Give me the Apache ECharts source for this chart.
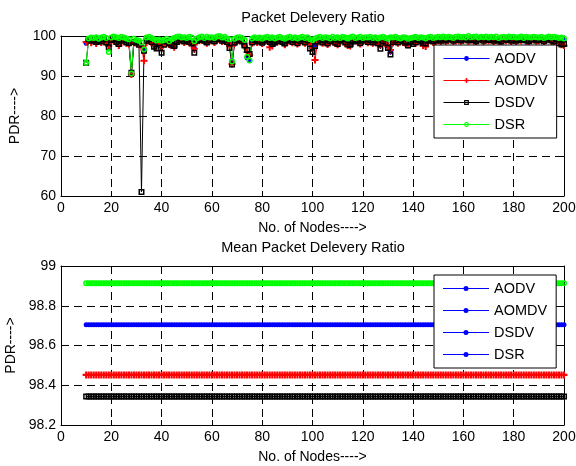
<!DOCTYPE html>
<html>
<head>
<meta charset="utf-8">
<script src="https://cdn.jsdelivr.net/npm/echarts@6/dist/echarts.min.js"></script>
<style>
  html, body { margin: 0; padding: 0; background: #fff; }
  #chart { width: 576px; height: 466px; }
</style>
</head>
<body>
<div id="chart"></div>
<script>
const protocols = ['AODV', 'AOMDV', 'DSDV', 'DSR']
const colors = ['#0000ff', '#ff0000', '#000000', '#00ff00']

// number of nodes: 10 .. 200, one run per node count
const nodes = []
for (let n = 10; n <= 200; n++) nodes.push(n)

const aodvPdr = [
  98.2, 99.0, 99.2, 98.8, 98.6, 99.1, 98.9, 99.3, 98.7, 97.8,
  99.0, 99.3, 98.6, 97.8, 98.9, 99.2, 98.8, 98.5, 91.0, 98.7,
  98.6, 98.4, 97.5, 96.6, 99.0, 99.3, 98.7, 98.1, 97.6, 98.4,
  97.9, 98.5, 98.8, 98.2, 97.4, 97.3, 98.6, 99.1, 99.3, 98.9,
  99.2, 98.8, 98.4, 97.0, 98.9, 99.2, 99.4, 99.0, 98.7, 99.1,
  99.3, 98.9, 99.4, 99.5, 99.0, 99.2, 98.8, 97.9, 93.8, 98.5,
  99.1, 99.3, 98.9, 97.9, 94.5, 93.8, 98.7, 99.2, 98.9, 99.0,
  98.5, 99.1, 99.3, 98.8, 99.2, 98.6, 98.9, 99.3, 98.7, 98.4,
  99.1, 99.3, 98.8, 99.2, 98.5, 98.9, 99.3, 98.7, 99.1, 98.3,
  97.5, 97.8, 98.8, 99.2, 98.7, 99.1, 98.4, 98.9, 99.3, 98.6,
  98.2, 99.0, 99.3, 98.7, 98.1, 97.9, 98.8, 99.2, 98.9, 98.5,
  99.1, 99.3, 98.8, 99.2, 98.7, 99.0, 98.5, 98.2, 98.9, 98.6,
  97.5, 96.0, 98.8, 99.1, 98.7, 99.2, 98.9, 98.6, 98.3, 98.8,
  99.1, 98.7, 99.2, 98.9, 98.5, 98.8, 99.2, 99.4, 98.9, 99.1,
  99.3, 99.0, 99.4, 99.1, 99.3, 99.5, 99.0, 99.2, 99.4, 99.1,
  99.3, 99.5, 99.1, 99.4, 99.2, 99.0, 99.3, 99.5, 99.1, 99.4,
  99.2, 99.4, 99.0, 99.3, 99.1, 98.9, 99.4, 99.2, 99.5, 99.1,
  99.3, 99.0, 99.4, 99.2, 99.5, 99.1, 98.9, 99.3, 99.4, 99.1,
  99.2, 99.4, 98.9, 99.3, 99.5, 99.1, 98.9, 99.4, 98.7, 98.5,
  98.9
]
const aomdvPdr = [
  98.5, 98.9, 98.3, 98.6, 98.1, 98.7, 98.4, 99.0, 98.2, 97.6,
  98.8, 99.0, 98.3, 97.6, 98.5, 98.8, 98.2, 98.0, 90.4, 98.3,
  98.2, 98.0, 97.2, 93.8, 98.4, 98.9, 98.3, 97.7, 97.2, 98.0,
  97.5, 98.2, 98.4, 97.9, 97.6, 97.2, 98.2, 98.7, 98.9, 98.4,
  98.8, 98.3, 97.9, 96.8, 98.5, 98.8, 99.0, 98.6, 98.2, 98.7,
  98.9, 98.4, 99.0, 99.1, 98.6, 98.8, 98.3, 97.6, 93.0, 98.1,
  98.6, 98.9, 98.4, 97.4, 96.0, 95.2, 98.2, 98.8, 98.4, 98.6,
  98.1, 98.7, 98.9, 97.2, 97.5, 98.2, 98.5, 98.9, 98.3, 97.8,
  98.6, 98.9, 98.3, 98.8, 98.0, 98.5, 98.9, 98.2, 98.7, 97.9,
  97.0, 94.0, 98.4, 98.8, 98.2, 98.7, 97.9, 98.5, 98.9, 98.1,
  97.8, 98.6, 98.9, 98.2, 97.6, 97.5, 98.4, 98.8, 98.5, 98.0,
  98.7, 98.9, 98.3, 98.8, 98.2, 98.6, 98.0, 97.8, 98.5, 98.1,
  97.4, 96.5, 98.3, 98.7, 98.2, 98.8, 98.4, 98.1, 97.8, 98.3,
  98.7, 98.2, 98.8, 98.4, 97.6, 97.4, 98.6, 98.9, 98.4, 98.7,
  98.9, 98.6, 99.0, 98.7, 98.9, 99.1, 98.6, 98.8, 99.0, 98.7,
  98.9, 99.1, 98.7, 99.0, 98.8, 98.5, 98.9, 99.1, 98.6, 99.0,
  98.8, 99.0, 98.6, 98.9, 98.7, 98.4, 99.0, 98.8, 99.1, 98.6,
  98.9, 98.6, 99.0, 98.8, 99.1, 98.7, 98.5, 98.9, 99.0, 98.7,
  98.8, 99.0, 98.5, 98.9, 99.1, 98.7, 98.4, 99.0, 98.3, 97.8,
  97.6
]
const dsdvPdr = [
  93.3, 99.2, 98.8, 99.0, 98.5, 98.9, 98.6, 99.1, 98.4, 97.2,
  99.0, 99.2, 98.5, 98.0, 98.8, 99.0, 98.4, 98.2, 90.8, 98.5,
  98.3, 97.8, 61.0, 96.3, 98.8, 99.1, 98.5, 97.3, 96.9, 98.2,
  95.8, 97.8, 98.6, 98.1, 97.8, 97.5, 98.5, 98.9, 99.1, 98.6,
  99.0, 98.5, 98.1, 95.8, 98.8, 99.0, 99.2, 98.8, 98.4, 98.9,
  99.1, 98.6, 99.2, 99.3, 98.8, 99.0, 98.5, 97.0, 92.9, 98.3,
  98.9, 99.1, 98.6, 97.6, 96.5, 95.5, 98.4, 99.0, 98.6, 98.8,
  98.3, 98.9, 99.1, 98.5, 98.0, 98.4, 98.7, 99.1, 98.5, 98.1,
  98.8, 99.1, 98.5, 99.0, 98.2, 98.7, 99.1, 98.4, 98.9, 96.9,
  96.0, 97.5, 98.6, 99.0, 98.4, 98.9, 98.1, 98.7, 99.1, 98.3,
  98.0, 98.8, 99.1, 98.4, 97.9, 97.8, 98.6, 99.0, 98.7, 98.2,
  98.9, 99.1, 98.5, 99.0, 98.4, 98.8, 98.2, 96.8, 98.7, 98.3,
  97.0, 95.4, 98.5, 98.9, 98.4, 99.0, 98.6, 98.3, 97.6, 98.5,
  98.0, 98.4, 99.0, 98.6, 98.2, 98.1, 98.8, 99.1, 98.6, 98.9,
  99.1, 98.8, 99.2, 98.9, 99.1, 99.3, 98.8, 99.0, 99.2, 98.9,
  99.1, 99.3, 98.9, 99.2, 99.0, 98.7, 99.1, 99.3, 98.8, 99.2,
  99.0, 99.2, 98.8, 99.1, 98.9, 98.6, 99.2, 99.0, 99.3, 98.8,
  99.1, 98.8, 99.2, 99.0, 99.3, 98.9, 98.7, 99.1, 99.2, 98.9,
  99.0, 99.2, 98.7, 99.1, 99.3, 98.9, 98.6, 99.2, 98.2, 97.9,
  98.0
]
const dsrPdr = [
  93.3, 99.4, 99.6, 99.5, 99.7, 99.3, 99.6, 99.8, 99.5, 96.0,
  99.6, 99.9, 99.7, 99.5, 99.8, 99.6, 99.4, 99.2, 90.6, 99.3,
  99.0, 98.8, 98.4, 96.6, 99.6, 99.8, 99.5, 99.2, 98.9, 99.1,
  98.8, 99.0, 99.3, 98.7, 99.2, 99.5, 99.8, 99.9, 99.6, 99.7,
  99.5, 99.8, 99.6, 98.7, 99.4, 99.7, 99.9, 99.5, 99.8, 99.6,
  99.7, 99.5, 99.9, 100.0, 99.6, 99.8, 99.4, 99.2, 93.6, 99.3,
  99.6, 99.7, 99.5, 99.0, 94.8, 93.9, 99.4, 99.7, 99.5, 99.6,
  99.3, 99.6, 99.8, 99.5, 99.7, 99.4, 99.6, 99.8, 99.5, 99.3,
  99.6, 99.8, 99.5, 99.7, 99.4, 99.6, 99.8, 99.5, 99.7, 99.2,
  99.0, 99.4, 99.6, 99.8, 99.5, 99.7, 99.6, 99.4, 99.8, 99.5,
  99.7, 99.5, 99.8, 99.6, 99.4, 99.7, 99.9, 99.5, 99.6, 99.8,
  99.5, 99.7, 99.6, 99.8, 99.5, 99.7, 99.4, 99.6, 99.8, 99.5,
  99.3, 99.7, 99.6, 99.8, 99.5, 99.4, 99.7, 99.6, 99.3, 99.5,
  99.6, 99.8, 99.5, 99.7, 99.6, 99.4, 99.7, 99.8, 99.5, 99.6,
  99.8, 99.7, 99.9, 99.6, 99.8, 99.7, 99.5, 99.8, 99.9, 99.7,
  99.8, 99.6, 100.0, 99.7, 99.8, 99.9, 99.6, 99.8, 99.7, 99.9,
  99.6, 99.8, 99.7, 99.9, 99.5, 99.7, 99.8, 99.6, 99.9, 99.7,
  99.8, 99.6, 99.7, 99.9, 99.5, 99.8, 99.7, 99.6, 99.8, 99.7,
  99.6, 99.8, 99.5, 99.7, 99.9, 99.6, 99.8, 99.7, 99.5, 99.6,
  99.4
]
const pdrSeries = [aodvPdr, aomdvPdr, dsdvPdr, dsrPdr]

// mean PDR of each protocol (bottom plot)
const meanPdr = [98.705, 98.452, 98.343, 98.913]

const xTicks = { min: 0, max: 200, interval: 20 }
const pdrTicks = { min: 60, max: 100, interval: 10 }
const meanTicks = { min: 98.2, max: 99, interval: 0.2 }

const font = 'Liberation Sans, Arial, sans-serif'
// matlab-like markers: '*' (dot), '+', hollow square, hollow circle
const plusSymbol = 'path://M3.5,0H6.5V3.5H10V6.5H6.5V10H3.5V6.5H0V3.5H3.5Z'
const squareSymbol = 'path://M0,0H10V10H0Z M2.5,2.5V7.5H7.5V2.5Z'
const ringSymbol = 'path://M5,0A5,5 0 1,1 5,10A5,5 0 1,1 5,0Z M5,2.5A2.5,2.5 0 1,0 5,7.5A2.5,2.5 0 1,0 5,2.5Z'
const symbols = ['circle', plusSymbol, squareSymbol, ringSymbol]
const symbolSizes = [5, 7, 6, 6]
const legendLineDot = 'path://M0,2.5H46V3.5H0Z M20.5,3A2.5,2.5 0 1,1 25.5,3A2.5,2.5 0 1,1 20.5,3Z'

const grids = [
  { left: 61, top: 36, width: 503, height: 160, outerBoundsMode: 'none', containLabel: false },
  { left: 61, top: 266, width: 503, height: 159, outerBoundsMode: 'none', containLabel: false }
]

function axisBase(ticks, gridIndex, position, labels) {
  return {
    type: 'value',
    gridIndex,
    position,
    min: ticks.min,
    max: ticks.max,
    interval: ticks.interval,
    axisLine: { show: true, onZero: false, lineStyle: { color: '#000', width: 1 } },
    axisTick: { show: true, inside: true, length: 5, lineStyle: { color: '#000' } },
    axisLabel: {
      show: labels,
      color: '#000',
      fontFamily: font,
      fontSize: 14,
      margin: 5,
      formatter: (v) => String(+v.toFixed(1))
    },
    splitLine: { show: false }
  }
}

function mainAxis(ticks, gridIndex, position, name, gap) {
  const axis = axisBase(ticks, gridIndex, position, true)
  axis.name = name
  axis.nameLocation = 'middle'
  axis.nameGap = gap
  axis.nameTextStyle = { color: '#000', fontFamily: font, fontSize: 14 }
  axis.splitLine = { show: true, lineStyle: { color: '#000', width: 1, type: [8, 5] } }
  return axis
}

const xAxis = [
  mainAxis(xTicks, 0, 'bottom', 'No. of Nodes---->', 25),
  axisBase(xTicks, 0, 'top', false),
  mainAxis(xTicks, 1, 'bottom', 'No. of Nodes---->', 25),
  axisBase(xTicks, 1, 'top', false)
]
const yAxis = [
  mainAxis(pdrTicks, 0, 'left', 'PDR---->', 39),
  axisBase(pdrTicks, 0, 'right', false),
  mainAxis(meanTicks, 1, 'left', 'PDR---->', 39),
  axisBase(meanTicks, 1, 'right', false)
]

const series = []
protocols.forEach((name, i) => {
  series.push({
    name,
    type: 'line',
    xAxisIndex: 0,
    yAxisIndex: 0,
    data: nodes.map((n, k) => [n, pdrSeries[i][k]]),
    symbol: symbols[i],
    symbolSize: symbolSizes[i],
    showAllSymbol: true,
    color: colors[i],
    lineStyle: { width: 1, color: colors[i] },
    itemStyle: { color: colors[i] },
    emphasis: { disabled: true },
    clip: true
  })
})
protocols.forEach((name, i) => {
  series.push({
    name,
    type: 'line',
    xAxisIndex: 2,
    yAxisIndex: 2,
    data: nodes.map((n) => [n, meanPdr[i]]),
    symbol: symbols[i],
    symbolSize: symbolSizes[i],
    showAllSymbol: true,
    color: colors[i],
    lineStyle: { width: 1, color: colors[i] },
    itemStyle: { color: colors[i] },
    emphasis: { disabled: true },
    clip: true
  })
})

const legendBase = {
  orient: 'vertical',
  left: 434,
  padding: [6, 9, 6, 9],
  itemWidth: 46,
  itemHeight: 6,
  itemGap: 7,
  borderColor: '#000',
  borderWidth: 1,
  backgroundColor: '#fff',
  selectedMode: false,
  lineStyle: { width: 1 },
  textStyle: { color: '#000', fontFamily: font, fontSize: 14.5 }
}

const chart = echarts.init(document.getElementById('chart'))
chart.setOption({
  animation: false,
  backgroundColor: '#fff',
  grid: grids,
  xAxis,
  yAxis,
  legend: [
    Object.assign({}, legendBase, { top: 45, data: protocols }),
    Object.assign({}, legendBase, {
      top: 275,
      // MATLAB drew every mean entry with the first line style
      data: protocols.map((name) => ({ name, icon: legendLineDot, itemStyle: { color: '#0000ff' } }))
    })
  ],
  graphic: [
    {
      type: 'text', x: 313, y: 18,
      style: { text: 'Packet Delevery Ratio', fill: '#000', font: '14.5px ' + font, align: 'center', verticalAlign: 'middle' }
    },
    {
      type: 'text', x: 313, y: 248,
      style: { text: 'Mean Packet Delevery Ratio', fill: '#000', font: '14.5px ' + font, align: 'center', verticalAlign: 'middle' }
    }
  ],
  series
})
</script>
</body>
</html>
